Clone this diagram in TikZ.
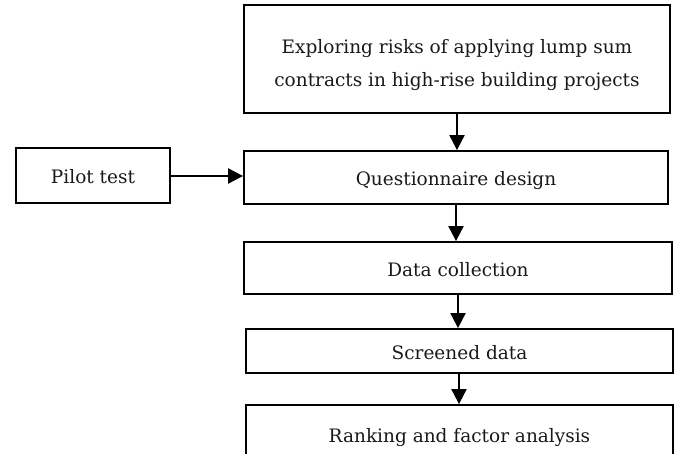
\documentclass[tikz,border=0pt]{standalone}
\usepackage{fontspec}
\setmainfont{DejaVu Serif}
\usetikzlibrary{arrows.meta}
\begin{document}
\begin{tikzpicture}[x=1pt,y=-1pt,
  flowbox/.style={draw, line width=1.8pt, rectangle, inner sep=0pt,
    font=\fontsize{18.5}{33}\selectfont, text=black!90, align=center,
    text height=17pt, text depth=0pt},
  flowarrow/.style={line width=2pt, -{Triangle[width=15pt,length=15pt]}}]
  \useasboundingbox (0,0) rectangle (675,454);
  \begin{scope}
    \clip (0,0) rectangle (675,454);
    \node[flowbox, minimum width=426pt, minimum height=108pt, text height=55pt] (explore) at (457,59)
      {Exploring risks of applying lump sum\\contracts in high-rise building projects};
    \node[flowbox, minimum width=424pt, minimum height=53pt] (quest) at (456,177.5)
      {Questionnaire design};
    \node[flowbox, minimum width=154pt, minimum height=55pt] (pilot) at (93,175.5)
      {Pilot test};
    \node[flowbox, minimum width=428pt, minimum height=52pt] (collect) at (458,268)
      {Data collection};
    \node[flowbox, minimum width=427pt, minimum height=44pt] (screen) at (459.5,351)
      {Screened data};
    \node[flowbox, minimum width=427pt, minimum height=57pt] (rank) at (459.5,433.5)
      {Ranking and factor analysis};
    \draw[flowarrow] (explore.south) -- (explore.south |- quest.north);
    \draw[flowarrow] ([yshift=-0.5pt]pilot.east) -- ([yshift=-0.5pt]pilot.east -| quest.west);
    \draw[flowarrow] (quest.south) -- (quest.south |- collect.north);
    \draw[flowarrow] (collect.south) -- (collect.south |- screen.north);
    \draw[flowarrow] ([xshift=-0.5pt]screen.south) -- ([xshift=-0.5pt]screen.south |- rank.north);
  \end{scope}
\end{tikzpicture}
\end{document}
